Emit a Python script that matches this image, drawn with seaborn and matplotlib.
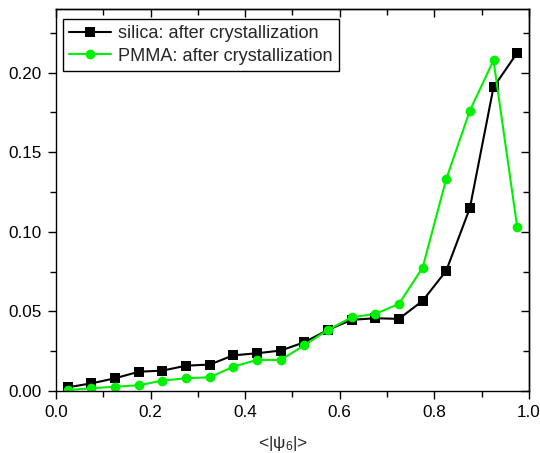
import numpy as np
import pandas as pd
import matplotlib
matplotlib.use("Agg")
import matplotlib.pyplot as plt
import seaborn as sns
from matplotlib.ticker import MultipleLocator, FormatStrFormatter

# --- DATA ---
psi6 = [0.025, 0.075, 0.125, 0.175, 0.225, 0.275, 0.325, 0.375, 0.425, 0.475,
        0.525, 0.575, 0.625, 0.675, 0.725, 0.775, 0.825, 0.875, 0.925, 0.975]
silica = [0.0023, 0.0048, 0.0080, 0.0121, 0.0128, 0.0159, 0.0166, 0.0224, 0.0237, 0.0254,
          0.0306, 0.0384, 0.0447, 0.0457, 0.0453, 0.0566, 0.0755, 0.1149, 0.1908, 0.2124]
pmma = [0.0006, 0.0017, 0.0027, 0.0036, 0.0065, 0.0080, 0.0086, 0.0153, 0.0195, 0.0195,
        0.0287, 0.0384, 0.0463, 0.0484, 0.0547, 0.0774, 0.1331, 0.1761, 0.2077, 0.1031]
labels = ["silica: after crystallization", "PMMA: after crystallization"]

sns.set_theme(style="ticks")
plt.rcParams['font.family'] = ['Liberation Sans', 'DejaVu Sans']
plt.rcParams['mathtext.fontset'] = 'custom'
plt.rcParams['mathtext.rm'] = 'Liberation Sans'
plt.rcParams['mathtext.it'] = 'Liberation Sans'

df = pd.concat([
    pd.DataFrame({"psi": psi6, "val": silica, "sample": labels[0]}),
    pd.DataFrame({"psi": psi6, "val": pmma, "sample": labels[1]}),
])

fig = plt.figure(figsize=(5.4, 4.53), dpi=100)
ax = fig.add_axes([0.1037, 0.1369, 0.8759, 0.8433])

sns.lineplot(data=df, x="psi", y="val", hue="sample", style="sample",
             palette=["black", "#00f000"], markers=["s", "o"], dashes=False,
             linewidth=1.5, markersize=7, markeredgewidth=0, ax=ax)

ax.set_xlim(0, 1.0)
ax.set_ylim(0, 0.240)

def set_ticks(axis, major, minor, fmt=None):
    axis.set_major_locator(MultipleLocator(major))
    axis.set_minor_locator(MultipleLocator(minor))
    if fmt:
        axis.set_major_formatter(FormatStrFormatter(fmt))

set_ticks(ax.xaxis, 0.2, 0.1, '%.1f')
set_ticks(ax.yaxis, 0.05, 0.025, '%.2f')

for s in ax.spines.values():
    s.set_visible(True)
    s.set_color("black")
    s.set_linewidth(1.0)

ax.tick_params(which="both", direction="out", color="black", labelsize=12.3,
               labelcolor="black", pad=4)
ax.tick_params(which="major", length=6, width=1.0)
ax.tick_params(which="minor", length=4, width=1.0)

# mirrored ticks on top/right pointing inward, no labels
top = ax.secondary_xaxis('top')
right = ax.secondary_yaxis('right')
set_ticks(top.xaxis, 0.2, 0.1)
set_ticks(right.yaxis, 0.05, 0.025)
top.tick_params(which="both", direction="in", color="black", labeltop=False)
right.tick_params(which="both", direction="in", color="black", labelright=False)
for sec in (top, right):
    sec.tick_params(which="major", length=6, width=1.0)
    sec.tick_params(which="minor", length=4, width=1.0)
    for s in sec.spines.values():
        s.set_linewidth(1.0)
        s.set_color("black")

ax.set_xlabel(r"<|$\mathrm{\psi}_6$|>", fontsize=12.5)
ax.xaxis.set_label_coords(0.48, -0.112)
ax.set_ylabel("")

leg = ax.legend(loc="upper left", bbox_to_anchor=(0.0148, 0.974), borderaxespad=0,
                fontsize=13.1, frameon=True, fancybox=False,
                edgecolor="black", framealpha=1, borderpad=0.35, handlelength=2.3,
                handletextpad=0.35, labelspacing=0.3)
leg.get_frame().set_linewidth(1.0)

fig.savefig("out.png", dpi=100)
